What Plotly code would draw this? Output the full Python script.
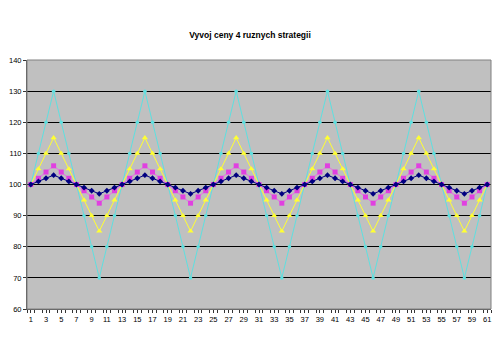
import plotly.graph_objects as go

periods = list(range(1, 62))

# one 12-step cycle for each strategy, repeated over the 61 periods
cycle_a = [100, 101, 102, 103, 102, 101, 100, 99, 98, 97, 98, 99]
cycle_b = [100, 102, 104, 106, 104, 102, 100, 98, 96, 94, 96, 98]
cycle_c = [100, 105, 110, 115, 110, 105, 100, 95, 90, 85, 90, 95]
cycle_d = [100, 110, 120, 130, 120, 110, 100, 90, 80, 70, 80, 90]

strategy_a = (cycle_a * 6)[:61]
strategy_b = (cycle_b * 6)[:61]
strategy_c = (cycle_c * 6)[:61]
strategy_d = (cycle_d * 6)[:61]

y_ticks = [60, 70, 80, 90, 100, 110, 120, 130, 140]
x_ticks = list(range(1, 62, 2))

fig = go.Figure()

series = [
    (strategy_d, "#5EE0E0", dict(symbol="circle", size=3.5, color="#5EE0E0")),
    (strategy_c, "#FFFF33", dict(symbol="triangle-up", size=5.5, color="#FFFF33")),
    (strategy_b, "#EE66EE", dict(symbol="square", size=5, color="#E040E0")),
    (strategy_a, "#000080", dict(symbol="diamond", size=4.5, color="#000080")),
]
for values, color, marker in series:
    fig.add_trace(go.Scatter(
        x=periods, y=values, mode="lines+markers",
        line=dict(color=color, width=1),
        marker=marker, showlegend=False, cliponaxis=False,
    ))

fig.update_layout(
    width=500, height=338,
    margin=dict(l=20, r=9, t=60, b=29),
    paper_bgcolor="white",
    plot_bgcolor="#C0C0C0",
    title=dict(
        text="<b>Vyvoj ceny 4 ruznych strategii</b>",
        x=0.5, xanchor="center", y=1 - 35 / 338, yanchor="middle",
        font=dict(family="Arial, Liberation Sans", size=8.5, color="black"),
    ),
    font=dict(family="Arial, Liberation Sans", size=8, color="black"),
    xaxis=dict(
        range=[0.5, 61.5], tickmode="array", tickvals=x_ticks,
        ticks="outside", ticklen=3, tickcolor="#333333",
        showgrid=False, zeroline=False,
        showline=True, linecolor="#555555", linewidth=1,
        minor=dict(tickmode="linear", tick0=0.5, dtick=1, ticks="outside",
                   ticklen=3, tickcolor="#333333", showgrid=False),
        tickfont=dict(size=7.5),
    ),
    yaxis=dict(
        range=[60, 140], tickmode="array", tickvals=y_ticks,
        ticks="outside", ticklen=3, tickcolor="#333333",
        showgrid=True, gridcolor="black", gridwidth=1.2,
        zeroline=False, showline=True, linecolor="#555555", linewidth=1,
        tickfont=dict(size=7.5),
    ),
    shapes=[dict(
        type="rect", xref="paper", yref="paper", x0=0, x1=1, y0=0, y1=1,
        line=dict(color="#808080", width=1), layer="above",
    )],
)

fig.write_html("out.html")
